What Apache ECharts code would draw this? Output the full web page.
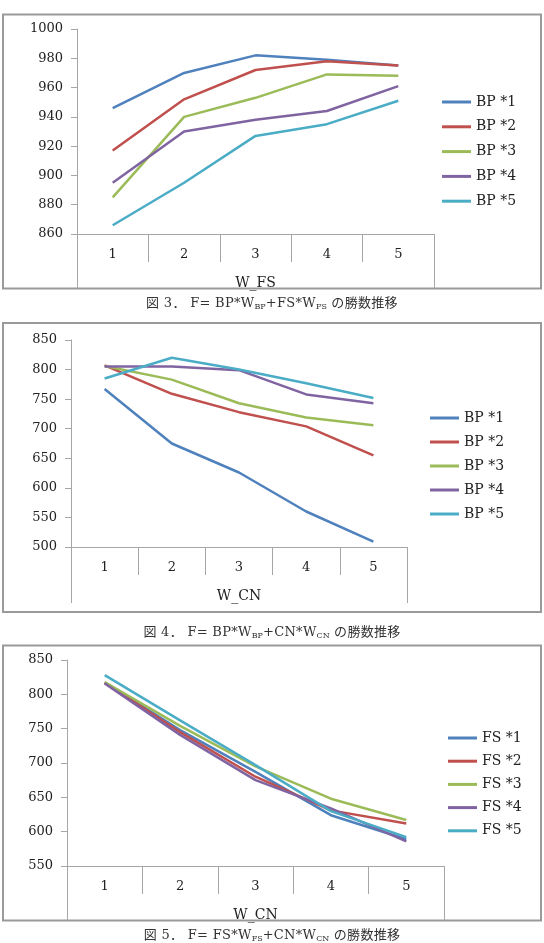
<!DOCTYPE html>
<html>
<head>
<meta charset="utf-8">
<title>勝数推移</title>
<script src="https://cdn.jsdelivr.net/npm/echarts@6/dist/echarts.min.js"></script>
<style>
  html, body { margin: 0; padding: 0; background: #fff; }
  #page { position: relative; width: 544px; height: 943px; }
  #main { position: absolute; left: 0; top: 0; width: 544px; height: 943px; }
  .cap {
    position: absolute; left: 0; width: 544px; text-align: center;
    font-family: "DejaVu Serif", "Noto Sans CJK JP", serif;
    font-size: 13px; color: #333; line-height: 16px; white-space: nowrap;
    letter-spacing: 0.3px;
  }
  .cap sub { font-size: 8px; vertical-align: -2px; letter-spacing: 0; }
</style>
</head>
<body>
<div id="page">
  <div id="main"></div>
  <div class="cap" style="top:295px">図 3．&nbsp;F=&nbsp;BP*W<sub>BP</sub>+FS*W<sub>FS</sub> の勝数推移</div>
  <div class="cap" style="top:624px">図 4．&nbsp;F=&nbsp;BP*W<sub>BP</sub>+CN*W<sub>CN</sub> の勝数推移</div>
  <div class="cap" style="top:927px">図 5．&nbsp;F=&nbsp;FS*W<sub>FS</sub>+CN*W<sub>CN</sub> の勝数推移</div>
</div>
<script>
// 横軸のカテゴリ (重み 1〜5)
const weights = ['1', '2', '3', '4', '5'];

// 図3  F = BP*W_BP + FS*W_FS
const bpNames = ['BP *1', 'BP *2', 'BP *3', 'BP *4', 'BP *5'];
const bp1Fs = [946, 970, 982, 979, 975];
const bp2Fs = [917, 952, 972, 978, 975];
const bp3Fs = [885, 940, 953, 969, 968];
const bp4Fs = [895, 930, 938, 944, 961];
const bp5Fs = [866, 895, 927, 935, 951];

// 図4  F = BP*W_BP + CN*W_CN
const bp1Cn = [767, 675, 626, 560, 509];
const bp2Cn = [807, 759, 728, 704, 655];
const bp3Cn = [806, 783, 743, 719, 706];
const bp4Cn = [805, 805, 799, 758, 743];
const bp5Cn = [785, 820, 800, 777, 752];

// 図5  F = FS*W_FS + CN*W_CN
const fsNames = ['FS *1', 'FS *2', 'FS *3', 'FS *4', 'FS *5'];
const fs1Cn = [817, 748, 687, 624, 589];
const fs2Cn = [817, 745, 680, 631, 612];
const fs3Cn = [818, 754, 695, 648, 617];
const fs4Cn = [816, 741, 675, 634, 586];
const fs5Cn = [828, 762, 697, 630, 592];

// 縦軸の範囲
const yRanges = [
  { min: 860, max: 1000, interval: 20 },
  { min: 500, max: 850, interval: 50 },
  { min: 550, max: 850, interval: 50 }
];
const xNames = ['W_FS', 'W_CN', 'W_CN'];

// Excel 2007 の既定色
const colors = ['#4F81BD', '#C0504D', '#9BBB59', '#8064A2', '#4BACC6'];

const serif = 'DejaVu Serif';
const axisGray = '#a6a6a6';

// 3 つのパネルの配置
const panels = [
  { grid: { left: 77, top: 29, width: 357, height: 205 }, box: [3, 14.5, 538, 274], tick: 28, extEnd: 288,
    legend: { left: 442, top: 95, itemGap: 10.8 }, names: bpNames,
    data: [bp1Fs, bp2Fs, bp3Fs, bp4Fs, bp5Fs] },
  { grid: { left: 71, top: 340, width: 336, height: 207 }, box: [3, 323, 538, 289], tick: 28, extEnd: 603,
    legend: { left: 430, top: 411, itemGap: 10 }, names: bpNames,
    data: [bp1Cn, bp2Cn, bp3Cn, bp4Cn, bp5Cn] },
  { grid: { left: 67, top: 660, width: 377, height: 206 }, box: [3, 645.5, 538, 275], tick: 28, extEnd: 920,
    legend: { left: 448, top: 731, itemGap: 9.2 }, names: fsNames,
    data: [fs1Cn, fs2Cn, fs3Cn, fs4Cn, fs5Cn] }
];

const grids = [], xAxes = [], yAxes = [], legends = [], series = [], graphics = [];

panels.forEach((p, i) => {
  grids.push(Object.assign({ containLabel: false }, p.grid));

  xAxes.push({
    type: 'category', gridIndex: i, data: weights, boundaryGap: true,
    axisLine: { lineStyle: { color: axisGray } },
    axisTick: { show: true, interval: 0, alignWithLabel: false, length: p.tick, lineStyle: { color: axisGray } },
    axisLabel: { margin: 14, fontFamily: serif, fontSize: 13, color: '#222' },
    name: xNames[i], nameLocation: 'middle', nameGap: 42,
    nameTextStyle: { fontFamily: serif, fontSize: 14, color: '#222' }
  });

  yAxes.push({
    type: 'value', gridIndex: i,
    min: yRanges[i].min, max: yRanges[i].max, interval: yRanges[i].interval,
    axisLine: { show: true, lineStyle: { color: axisGray } },
    axisTick: { show: true, length: 6, lineStyle: { color: axisGray } },
    splitLine: { show: false },
    axisLabel: { margin: 14, fontFamily: serif, fontSize: 13, color: '#222', formatter: v => String(v) }
  });

  legends.push({
    orient: 'vertical', left: p.legend.left, top: p.legend.top, itemGap: p.legend.itemGap,
    itemWidth: 29, itemHeight: 3, icon: 'rect', padding: 0,
    data: p.names,
    textStyle: { fontFamily: serif, fontSize: 14, color: '#222' }
  });

  p.data.forEach((vals, k) => {
    series.push({
      name: p.names[k], type: 'line', xAxisIndex: i, yAxisIndex: i,
      data: vals, symbol: 'none',
      lineStyle: { width: 2.5, color: colors[k] },
      itemStyle: { color: colors[k] }
    });
  });

  // 外枠
  graphics.push({
    type: 'rect', silent: true,
    shape: { x: p.box[0], y: p.box[1], width: p.box[2], height: p.box[3] },
    style: { fill: 'none', stroke: '#9a9a9a', lineWidth: 2 }
  });
  // 軸の両端を枠の下まで延ばす線
  const axisY = p.grid.top + p.grid.height;
  [p.grid.left, p.grid.left + p.grid.width].forEach(x => {
    graphics.push({
      type: 'line', silent: true,
      shape: { x1: x + 0.5, y1: axisY, x2: x + 0.5, y2: p.extEnd },
      style: { stroke: axisGray, lineWidth: 1 }
    });
  });
});

const chart = echarts.init(document.getElementById('main'));
chart.setOption({
  animation: false,
  color: colors,
  grid: grids,
  xAxis: xAxes,
  yAxis: yAxes,
  legend: legends,
  series: series,
  graphic: graphics
});
</script>
</body>
</html>
